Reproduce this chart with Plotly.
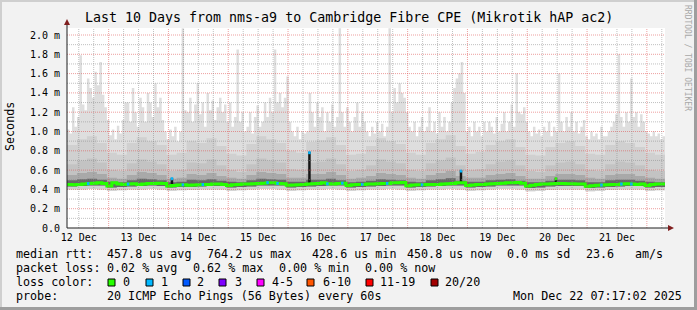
import plotly.graph_objects as go
import pandas as pd

# ---------------- data ----------------
title_text = "Last 10 Days from nms-a9 to Cambridge Fibre CPE (Mikrotik hAP ac2)"
t_start = pd.Timestamp("2025-12-12 07:17:02")
t_end = pd.Timestamp("2025-12-22 07:17:02")

# hourly maximum ping rtt (ms), 240 values, one row per 24h starting 07:17
max_rtt = [
    1.02, 0.98, 1.25, 1.05, 1.15, 1.79, 1.28, 1.22, 1.55, 1.45, 1.35, 1.62, 1.48, 1.72, 1.38, 1.25, 1.12, 0.96, 1.02, 0.92, 1.06, 0.98, 1.12, 1.30,
    1.30, 1.10, 1.45, 1.20, 1.05, 1.35, 1.25, 1.10, 1.40, 1.30, 1.15, 1.50, 1.25, 1.35, 1.12, 1.00, 0.92, 1.02, 0.95, 1.05, 0.90, 1.00, 2.07, 1.22,
    1.20, 1.35, 1.10, 1.28, 1.50, 1.18, 1.30, 1.05, 1.40, 1.22, 1.32, 1.12, 1.25, 1.35, 1.20, 1.28, 1.10, 1.30, 1.05, 1.15, 1.85, 1.10, 1.20, 1.00,
    1.05, 1.20, 0.98, 1.15, 1.27, 1.05, 1.10, 1.30, 1.15, 1.35, 1.20, 1.85, 1.30, 1.40, 1.25, 1.35, 1.57, 1.10, 1.00, 0.95, 1.05, 0.92, 1.00, 0.98,
    1.00, 1.40, 1.20, 1.05, 1.30, 1.15, 1.25, 1.00, 1.20, 1.10, 1.28, 1.05, 1.15, 2.07, 1.20, 1.05, 1.25, 1.10, 1.00, 1.15, 1.30, 1.05, 1.20, 1.10,
    1.00, 0.95, 1.05, 0.98, 1.10, 1.00, 1.08, 0.95, 1.05, 2.07, 1.20, 1.45, 1.30, 1.50, 1.40, 1.35, 1.20, 1.05, 1.00, 1.10, 0.95, 1.05, 1.15, 1.00,
    1.05, 1.25, 1.00, 1.10, 0.98, 1.20, 1.05, 1.15, 1.00, 1.10, 1.30, 1.45, 1.55, 1.60, 1.72, 1.40, 1.00, 1.05, 0.95, 1.10, 1.00, 1.05, 0.95, 1.10,
    1.00, 1.10, 1.05, 0.98, 1.15, 1.00, 1.08, 1.20, 1.00, 1.10, 1.28, 1.05, 1.60, 1.20, 1.18, 1.25, 1.10, 1.00, 0.95, 1.05, 0.98, 1.02, 0.95, 1.05,
    1.00, 1.10, 0.95, 1.05, 1.00, 1.60, 1.10, 1.00, 1.15, 1.05, 1.20, 1.00, 1.10, 0.98, 1.05, 1.12, 0.95, 0.92, 1.00, 0.95, 0.98, 0.92, 1.05, 0.95,
    0.95, 1.00, 1.05, 1.10, 1.18, 1.80, 1.15, 1.05, 1.20, 1.10, 1.55, 1.15, 1.20, 1.05, 1.18, 1.10, 1.00, 0.98, 0.95, 1.00, 0.95, 0.98, 0.92, 0.95,
]

# 4-hourly smoke percentiles (ms), 60 values, 6 per day
p90_rtt = [
    0.86, 0.92, 0.95, 0.88, 0.78, 0.76,  0.88, 0.94, 0.90, 0.86, 0.76, 0.78,
    0.90, 0.88, 0.93, 0.85, 0.77, 0.75,  0.87, 0.95, 0.92, 0.88, 0.80, 0.78,
    0.89, 0.91, 0.94, 0.86, 0.76, 0.77,  0.85, 0.93, 0.90, 0.87, 0.78, 0.76,
    0.88, 0.92, 0.96, 0.85, 0.77, 0.79,  0.86, 0.90, 0.92, 0.84, 0.76, 0.75,
    0.84, 0.88, 0.90, 0.85, 0.77, 0.76,  0.86, 0.90, 0.88, 0.84, 0.78, 0.76,
]
p75_rtt = [
    0.66, 0.70, 0.72, 0.68, 0.60, 0.59,  0.67, 0.71, 0.69, 0.66, 0.59, 0.60,
    0.68, 0.67, 0.71, 0.65, 0.60, 0.58,  0.66, 0.72, 0.70, 0.68, 0.61, 0.60,
    0.68, 0.69, 0.72, 0.66, 0.59, 0.60,  0.65, 0.71, 0.69, 0.67, 0.60, 0.59,
    0.67, 0.70, 0.73, 0.65, 0.60, 0.61,  0.66, 0.69, 0.70, 0.65, 0.59, 0.58,
    0.65, 0.68, 0.69, 0.66, 0.60, 0.59,  0.66, 0.69, 0.68, 0.65, 0.60, 0.59,
]
p60_rtt = [
    0.55, 0.57, 0.58, 0.56, 0.52, 0.51,  0.55, 0.58, 0.57, 0.55, 0.51, 0.52,
    0.56, 0.55, 0.57, 0.54, 0.52, 0.51,  0.55, 0.58, 0.57, 0.56, 0.52, 0.52,
    0.56, 0.56, 0.58, 0.55, 0.51, 0.52,  0.54, 0.57, 0.56, 0.55, 0.52, 0.51,
    0.55, 0.57, 0.59, 0.54, 0.52, 0.52,  0.55, 0.56, 0.57, 0.54, 0.51, 0.51,
    0.54, 0.56, 0.56, 0.55, 0.52, 0.51,  0.55, 0.56, 0.56, 0.54, 0.52, 0.51,
]
p55_rtt = [
    0.495, 0.505, 0.510, 0.500, 0.480, 0.475,  0.495, 0.510, 0.505, 0.495, 0.475, 0.480,
    0.500, 0.495, 0.505, 0.490, 0.480, 0.475,  0.495, 0.510, 0.505, 0.500, 0.480, 0.480,
    0.500, 0.500, 0.510, 0.495, 0.475, 0.480,  0.490, 0.505, 0.500, 0.495, 0.480, 0.475,
    0.495, 0.505, 0.515, 0.490, 0.480, 0.480,  0.495, 0.500, 0.505, 0.490, 0.475, 0.475,
    0.490, 0.500, 0.500, 0.495, 0.475, 0.475,  0.495, 0.500, 0.500, 0.490, 0.480, 0.475,
]
q25_rtt = [
    0.430, 0.435, 0.440, 0.440, 0.420, 0.425,  0.430, 0.435, 0.440, 0.435, 0.420, 0.425,
    0.425, 0.430, 0.435, 0.435, 0.420, 0.425,  0.430, 0.440, 0.440, 0.440, 0.420, 0.425,
    0.430, 0.435, 0.440, 0.440, 0.420, 0.425,  0.430, 0.435, 0.440, 0.440, 0.420, 0.425,
    0.430, 0.435, 0.440, 0.440, 0.420, 0.425,  0.430, 0.440, 0.440, 0.440, 0.415, 0.420,
    0.430, 0.435, 0.435, 0.435, 0.415, 0.420,  0.425, 0.430, 0.435, 0.435, 0.420, 0.425,
]
min_rtt = [
    0.400, 0.400, 0.405, 0.400, 0.385, 0.390,  0.400, 0.400, 0.405, 0.400, 0.385, 0.390,
    0.395, 0.400, 0.400, 0.400, 0.385, 0.390,  0.400, 0.405, 0.405, 0.400, 0.385, 0.390,
    0.400, 0.400, 0.405, 0.400, 0.385, 0.390,  0.400, 0.400, 0.405, 0.400, 0.385, 0.390,
    0.400, 0.400, 0.405, 0.400, 0.385, 0.390,  0.400, 0.405, 0.405, 0.400, 0.380, 0.385,
    0.395, 0.400, 0.400, 0.400, 0.380, 0.385,  0.395, 0.400, 0.400, 0.400, 0.385, 0.390,
]

# 2-hourly median rtt (ms), 120 values, 12 per day
median_rtt = [
    0.450, 0.448, 0.452, 0.455, 0.460, 0.465, 0.468, 0.462, 0.435, 0.470, 0.455, 0.452,
    0.455, 0.458, 0.452, 0.456, 0.460, 0.462, 0.465, 0.460, 0.435, 0.440, 0.445, 0.448,
    0.442, 0.445, 0.448, 0.450, 0.452, 0.455, 0.455, 0.452, 0.440, 0.448, 0.452, 0.455,
    0.455, 0.458, 0.460, 0.465, 0.470, 0.468, 0.462, 0.458, 0.442, 0.445, 0.448, 0.450,
    0.455, 0.458, 0.462, 0.470, 0.458, 0.455, 0.462, 0.465, 0.440, 0.448, 0.450, 0.452,
    0.455, 0.455, 0.458, 0.460, 0.462, 0.470, 0.468, 0.472, 0.438, 0.445, 0.448, 0.448,
    0.450, 0.450, 0.452, 0.455, 0.458, 0.462, 0.468, 0.470, 0.440, 0.445, 0.450, 0.452,
    0.455, 0.458, 0.460, 0.465, 0.468, 0.470, 0.472, 0.465, 0.435, 0.442, 0.450, 0.455,
    0.455, 0.458, 0.462, 0.460, 0.458, 0.458, 0.455, 0.455, 0.432, 0.438, 0.442, 0.445,
    0.448, 0.450, 0.452, 0.455, 0.458, 0.455, 0.452, 0.455, 0.440, 0.452, 0.455, 0.455,
]
# 2-hour bins in which one of the 20 pings was lost
loss1_bins = [4, 12, 23, 27, 40, 42, 52, 55, 59, 64, 71, 107, 111, 113]

# short bursts of high median rtt
spike_times = ["2025-12-14 01:24", "2025-12-16 08:35", "2025-12-18 21:24", "2025-12-20 11:31"]
spike_rtt = [0.52, 0.79, 0.60, 0.52]
spike_loss = [1, 1, 1, 0]

y_ticks = [0.0, 0.2, 0.4, 0.6, 0.8, 1.0, 1.2, 1.4, 1.6, 1.8, 2.0]
y_ticktext = ["0.0", "0.2 m", "0.4 m", "0.6 m", "0.8 m", "1.0 m", "1.2 m", "1.4 m", "1.6 m", "1.8 m", "2.0 m"]
x_tick_days = ["12 Dec", "13 Dec", "14 Dec", "15 Dec", "16 Dec", "17 Dec", "18 Dec", "19 Dec", "20 Dec", "21 Dec"]

legend_rows = [
    [("median rtt:", 16), ("457.8 us avg", 107), ("764.2 us max", 207), ("428.6 us min", 312),
     ("450.8 us now", 407), ("0.0 ms sd", 507), ("23.6", 586), ("am/s", 635)],
    [("packet loss:", 16), ("0.02 % avg", 107), ("0.62 % max", 193), ("0.00 % min", 279), ("0.00 % now", 365)],
    [("loss color:", 16)],
    [("probe:", 16), ("20 ICMP Echo Pings (56 Bytes) every 60s", 107), ("Mon Dec 22 07:17:02 2025", 513)],
]
loss_labels = ["0", "1", "2", "3", "4-5", "6-10", "11-19", "20/20"]
loss_colors = ["#26ff00", "#00b8ff", "#0059ff", "#7e00ff", "#ff00ff", "#ff5500", "#ff0000", "#a10000"]
# legend swatch layout (pixel x of swatch, of label)
swatch_x = [108, 146, 183, 219, 257, 307, 366, 431]
swatch_label_x = [123, 161, 197, 235, 272, 323, 380, 445]

# ---------------- layout geometry ----------------
W, H = 697, 310
ML, MR, MT, MB = 67, 32, 28, 82
PW, PH = W - ML - MR, H - MT - MB
YMAX = 2.0725
MONO = "DejaVu Sans Mono"


def px(x):
    return (x - ML) / PW


def py(y):
    return (H - MB - y) / PH


def edges(n):
    return list(pd.date_range(t_start, t_end, periods=n + 1))


fig = go.Figure()


def band(lo, hi, color):
    e_lo = edges(len(lo))
    e_hi = edges(len(hi))
    fig.add_trace(go.Scatter(x=e_lo, y=list(lo) + [lo[-1]], mode="lines",
                             line=dict(width=0, shape="hv"), hoverinfo="skip", showlegend=False))
    fig.add_trace(go.Scatter(x=e_hi, y=list(hi) + [hi[-1]], mode="lines",
                             line=dict(width=0, shape="hv"), fill="tonexty", fillcolor=color,
                             hoverinfo="skip", showlegend=False))


band(min_rtt, max_rtt, "#dedede")
band(min_rtt, p90_rtt, "#d0d0d0")
band(q25_rtt, p75_rtt, "#c3c3c3")
band(q25_rtt, p60_rtt, "#a9a9a9")
band(q25_rtt, p55_rtt, "#686868")

# spikes (dark columns)
e_med = edges(len(median_rtt))
bin_ms = (t_end - t_start) / len(median_rtt)
sx, sy = [], []
for t, v in zip(spike_times, spike_rtt):
    tt = pd.Timestamp(t)
    b = min(int((tt - t_start) / bin_ms), len(median_rtt) - 1)
    sx += [tt, tt, None]
    sy += [median_rtt[b], v, None]
fig.add_trace(go.Scatter(x=sx, y=sy, mode="lines", line=dict(width=2.5, color="#151515"),
                         hoverinfo="skip", showlegend=False))
for t, v, l in zip(spike_times, spike_rtt, spike_loss):
    tt = pd.Timestamp(t)
    fig.add_trace(go.Scatter(x=[tt, tt], y=[v - 0.025, v + 0.005], mode="lines",
                             line=dict(width=2.5, color=loss_colors[l]), hoverinfo="skip", showlegend=False))

# median line
fig.add_trace(go.Scatter(x=e_med, y=median_rtt + [median_rtt[-1]], mode="lines",
                         line=dict(width=3, color=loss_colors[0], shape="hv"),
                         hoverinfo="skip", showlegend=False))
bx, by = [], []
for i in loss1_bins:
    bx += [e_med[i], e_med[i] + (e_med[i + 1] - e_med[i]) * 0.5, None]
    by += [median_rtt[i], median_rtt[i], None]
fig.add_trace(go.Scatter(x=bx, y=by, mode="lines", line=dict(width=3, color=loss_colors[1]),
                         hoverinfo="skip", showlegend=False))

shapes = []
# grid (drawn above the smoke, like rrdtool)
GRID = "rgba(140,140,140,0.55)"
MGRID = "rgba(222,80,80,0.55)"
for k in range(1, 21):
    yv = k / 10
    shapes.append(dict(type="line", xref="paper", yref="y", x0=0, x1=1, y0=yv, y1=yv,
                       line=dict(color=MGRID if k % 2 == 0 else GRID, width=1, dash="1px,1px"), layer="above"))
t6 = pd.date_range(t_start.ceil("6h"), t_end, freq="6h")
for t in t6:
    shapes.append(dict(type="line", xref="x", yref="paper", x0=t, x1=t, y0=0, y1=1,
                       line=dict(color=MGRID if t.hour == 0 else GRID, width=1, dash="1px,1px"), layer="above"))
# axes with arrows
AX = "#1f1f1f"
ARROW = "#801f1f"
shapes.append(dict(type="line", xref="paper", yref="paper", x0=px(67), x1=px(670), y0=py(228), y1=py(228),
                   line=dict(color=AX, width=1), layer="above"))
shapes.append(dict(type="line", xref="paper", yref="paper", x0=px(67), x1=px(67), y0=py(228), y1=py(24),
                   line=dict(color=AX, width=1), layer="above"))
shapes.append(dict(type="path", xref="paper", yref="paper",
                   path=f"M {px(668)} {py(225)} L {px(674)} {py(228)} L {px(668)} {py(231)} Z",
                   fillcolor=ARROW, line=dict(color=ARROW, width=0), layer="above"))
shapes.append(dict(type="path", xref="paper", yref="paper",
                   path=f"M {px(64)} {py(25)} L {px(67)} {py(19)} L {px(70)} {py(25)} Z",
                   fillcolor=ARROW, line=dict(color=ARROW, width=0), layer="above"))
# frame shading
shapes.append(dict(type="rect", xref="paper", yref="paper", x0=px(0), x1=px(W), y0=py(0), y1=py(2),
                   fillcolor="#cfcfcf", line=dict(width=0), layer="below"))
shapes.append(dict(type="rect", xref="paper", yref="paper", x0=px(0), x1=px(2), y0=py(0), y1=py(H),
                   fillcolor="#cfcfcf", line=dict(width=0), layer="below"))
shapes.append(dict(type="rect", xref="paper", yref="paper", x0=px(W - 3), x1=px(W), y0=py(0), y1=py(H),
                   fillcolor="#9e9e9e", line=dict(width=0), layer="below"))
shapes.append(dict(type="rect", xref="paper", yref="paper", x0=px(0), x1=px(W), y0=py(H - 3), y1=py(H),
                   fillcolor="#9e9e9e", line=dict(width=0), layer="below"))
# loss colour swatches
for sxp, col in zip(swatch_x, loss_colors):
    shapes.append(dict(type="rect", xref="paper", yref="paper", x0=px(sxp), x1=px(sxp + 7),
                       y0=py(286), y1=py(279), fillcolor=col, line=dict(color="#000000", width=1), layer="above"))

annotations = []
annotations.append(dict(text=title_text, xref="paper", yref="paper", x=px(W / 2), y=py(18),
                        xanchor="center", yanchor="middle", showarrow=False,
                        font=dict(family=MONO, size=13.3, color="#000000")))
annotations.append(dict(text="Seconds", xref="paper", yref="paper", x=px(10), y=py(127),
                        xanchor="center", yanchor="middle", showarrow=False, textangle=-90,
                        font=dict(family=MONO, size=11.7, color="#000000")))
annotations.append(dict(text="RRDTOOL / TOBI OETIKER", xref="paper", yref="paper", x=px(688), y=py(58),
                        xanchor="center", yanchor="middle", showarrow=False, textangle=90,
                        font=dict(family=MONO, size=8, color="#a8a8a8")))
row_y = [254, 268, 282, 296]
for yrow, items in zip(row_y, legend_rows):
    for txt, xl in items:
        annotations.append(dict(text=txt.replace(" ", "&nbsp;"), xref="paper", yref="paper", x=px(xl - 1), y=py(yrow),
                                xanchor="left", yanchor="middle", showarrow=False, borderpad=0,
                                font=dict(family=MONO, size=11.7, color="#000000")))
for lab, xl in zip(loss_labels, swatch_label_x):
    annotations.append(dict(text=lab, xref="paper", yref="paper", x=px(xl - 1), y=py(282),
                            xanchor="left", yanchor="middle", showarrow=False, borderpad=0,
                            font=dict(family=MONO, size=11.7, color="#000000")))

noons = [pd.Timestamp("2025-12-12 12:00") + pd.Timedelta(days=i) for i in range(len(x_tick_days))]

fig.update_layout(
    width=W, height=H, autosize=False,
    margin=dict(l=ML, r=MR, t=MT, b=MB, pad=0),
    paper_bgcolor="#f2f2f2", plot_bgcolor="#ffffff",
    showlegend=False, hovermode=False,
    shapes=shapes, annotations=annotations,
    xaxis=dict(type="date", range=[t_start, t_end], tickvals=noons, ticktext=x_tick_days,
               showgrid=False, zeroline=False, showline=False, ticks="", ticklabelstandoff=2,
               tickfont=dict(family=MONO, size=10, color="#000000"), fixedrange=True),
    yaxis=dict(range=[0, YMAX], tickvals=y_ticks, ticktext=y_ticktext,
               showgrid=False, zeroline=False, showline=False, ticks="", ticklabelstandoff=6,
               tickfont=dict(family=MONO, size=10, color="#000000"), fixedrange=True),
)

fig.write_html("out.html")
